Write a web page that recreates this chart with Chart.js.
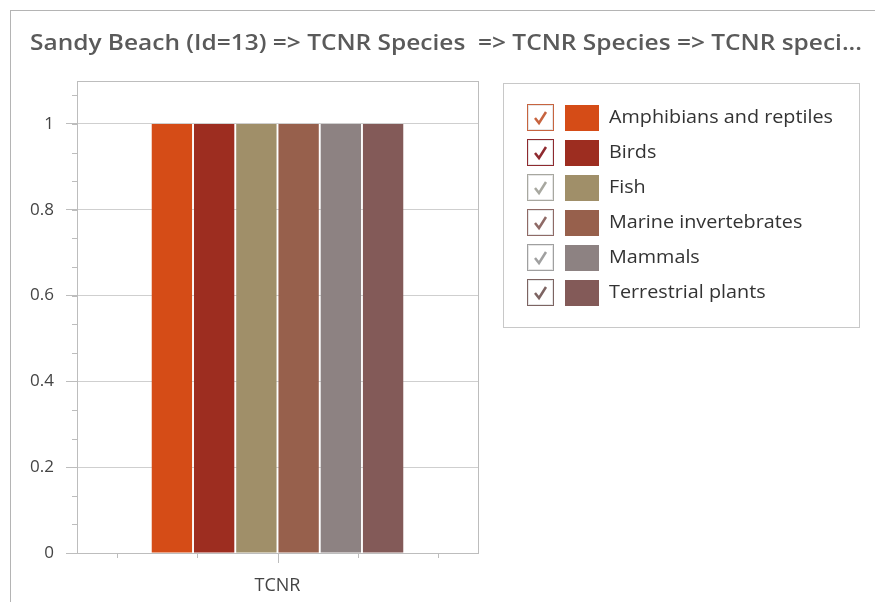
<!DOCTYPE html>
<html>
<head>
<meta charset="utf-8">
<script src="https://cdn.jsdelivr.net/npm/chart.js@4.4.1/dist/chart.umd.min.js"></script>
<style>
  html, body { margin: 0; padding: 0; background: #fff; }
  #wrap { width: 875px; height: 602px; position: relative; }
</style>
</head>
<body>
<div id="wrap"><canvas id="chart" width="875" height="602"></canvas></div>
<script>
// chart data
const titleText = "Sandy Beach (Id=13) => TCNR Species  => TCNR Species => TCNR speci...";
const categories = ["TCNR"];
const seriesNames = ["Amphibians and reptiles", "Birds", "Fish", "Marine invertebrates", "Mammals", "Terrestrial plants"];
const seriesValues = [[1], [1], [1], [1], [1], [1]];
const seriesColors = ["#d54c17", "#9d2d20", "#a08f69", "#97604c", "#8d8282", "#835a58"];
const checkColors = ["#c7643f", "#8f2a2f", "#a8a8a0", "#8f6a66", "#a0a0a0", "#7d6462"];

const FONT = "'Open Sans', 'DejaVu Sans', sans-serif";

//draws title, outer frame, plot frame, minor ticks and the checkbox legend
const decor = {
  id: "decor",
  beforeDraw: chart => {
    const ctx = chart.ctx;
    ctx.save();
    ctx.fillStyle = "#fff";
    ctx.fillRect(0, 0, chart.width, chart.height);
    ctx.strokeStyle = "#b4b4b4";
    ctx.lineWidth = 1;
    ctx.strokeRect(10.5, 10.5, chart.width + 10, chart.height + 10);
    // title, squeezed to the width it has in the original
    ctx.fillStyle = "#5a5a5a";
    ctx.font = "600 22px " + FONT;
    ctx.textBaseline = "middle";
    ctx.textAlign = "left";
    const w = ctx.measureText(titleText).width;
    ctx.translate(30, 44);
    ctx.scale(832 / w, 1);
    ctx.fillText(titleText, 0, 0);
    ctx.restore();
  },
  afterDraw: chart => {
    const ctx = chart.ctx;
    const a = chart.chartArea;
    const y = chart.scales.y;
    const x = chart.scales.x;
    ctx.save();
    ctx.strokeStyle = "#bdbdbd";
    ctx.lineWidth = 1;
    ctx.strokeRect(Math.round(a.left) + 0.5, Math.round(a.top) + 0.5, Math.round(a.right - a.left), Math.round(a.bottom - a.top));
    // minor y ticks
    ctx.beginPath();
    for (let v = 0; v <= 1.1; v += 0.2 / 3) {
      const py = Math.round(y.getPixelForValue(v)) + 0.5;
      ctx.moveTo(a.left - 5, py);
      ctx.lineTo(a.left, py);
    }
    // x ticks
    const xc = x.getPixelForTick(0);
    const cw = a.right - a.left;
    [-0.4, -0.2, 0.2, 0.4].forEach(f => {
      const px = Math.round(xc + f * cw) + 0.5;
      ctx.moveTo(px, a.bottom);
      ctx.lineTo(px, a.bottom + 5);
    });
    ctx.moveTo(Math.round(xc) + 0.5, a.bottom);
    ctx.lineTo(Math.round(xc) + 0.5, a.bottom + 10);
    ctx.stroke();

    // legend box
    const lx = 503, ly = 83, lw = 356, lh = 244;
    ctx.strokeStyle = "#c8c8c8";
    ctx.strokeRect(lx + 0.5, ly + 0.5, lw, lh);
    ctx.font = "18px " + FONT;
    ctx.textBaseline = "middle";
    ctx.textAlign = "left";
    const sx = 224 / ctx.measureText(seriesNames[0]).width;
    chart.data.datasets.forEach((ds, i) => {
      const cy = 118 + i * 35;
      // checkbox
      ctx.strokeStyle = checkColors[i];
      ctx.lineWidth = 1;
      ctx.strokeRect(527.5, cy - 13.5, 26, 26);
      ctx.strokeStyle = "#e6e6e6";
      ctx.strokeRect(528.5, cy - 12.5, 24, 24);
      ctx.strokeStyle = checkColors[i];
      ctx.lineWidth = 2.5;
      ctx.beginPath();
      ctx.moveTo(535, cy);
      ctx.lineTo(539, cy + 5);
      ctx.lineTo(546, cy - 6);
      ctx.stroke();
      // swatch
      ctx.fillStyle = ds.backgroundColor;
      ctx.fillRect(565, cy - 13, 34, 26);
      // text
      ctx.save();
      ctx.fillStyle = "#333";
      ctx.translate(609, cy);
      ctx.scale(sx, 1);
      ctx.fillText(ds.label, 0, 0);
      ctx.restore();
    });
    ctx.restore();
  }
};

new Chart(document.getElementById("chart"), {
  type: "bar",
  plugins: [decor],
  data: {
    labels: categories,
    datasets: seriesNames.map((name, i) => ({
      label: name,
      data: seriesValues[i],
      backgroundColor: seriesColors[i],
      borderWidth: 0,
      categoryPercentage: 0.632,
      barPercentage: 0.955
    }))
  },
  options: {
    responsive: false,
    animation: false,
    layout: { padding: { left: 10, right: 397, top: 81, bottom: 0 } },
    plugins: {
      legend: { display: false },
      title: { display: false },
      tooltip: { enabled: false }
    },
    scales: {
      x: {
        grid: { display: false },
        border: { display: false },
        ticks: { color: "#444", font: { family: FONT, size: 18 }, padding: 14 },
        afterFit: s => { s.height = 49; }
      },
      y: {
        min: 0,
        max: 1.1,
        border: { display: false },
        grid: { color: "#cfcfcf", tickLength: 11, tickColor: "#bdbdbd" },
        ticks: {
          stepSize: 0.2,
          includeBounds: false,
          color: "#444",
          font: { family: FONT, size: 17 },
          padding: 12,
          callback: v => String(+v.toFixed(1))
        },
        afterFit: s => { s.width = 67; }
      }
    }
  }
});
</script>
</body>
</html>
